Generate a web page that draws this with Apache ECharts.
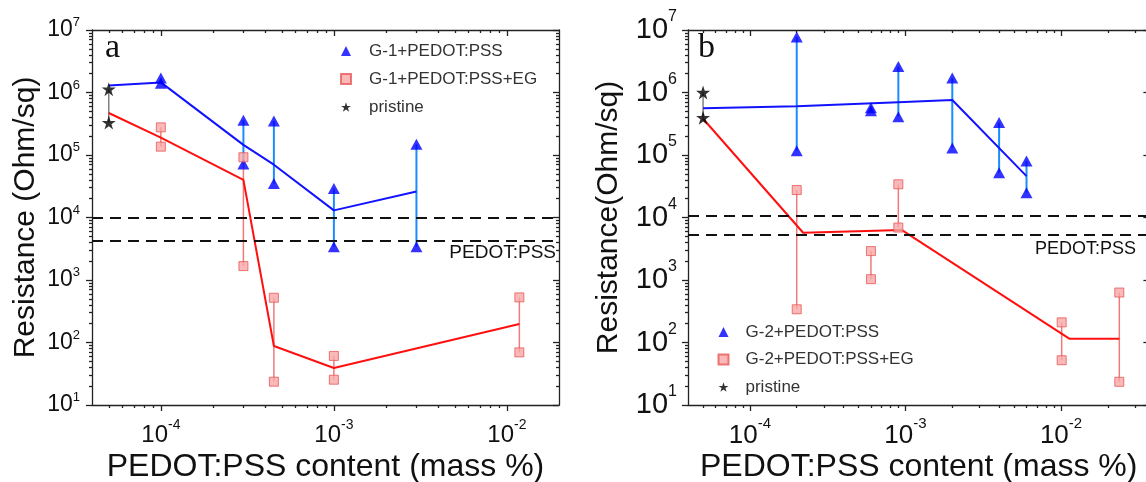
<!DOCTYPE html>
<html>
<head>
<meta charset="utf-8">
<script src="https://cdn.jsdelivr.net/npm/echarts@6/dist/echarts.min.js"></script>
<style>
html, body { margin: 0; padding: 0; background: #fff; }
#chart { width: 1146px; height: 482px; }
</style>
</head>
<body>
<div id="chart"></div>
<script>
// ---- panel a : G-1 ----
var blueBarXA  = [1e-4, 3e-4, 4.5e-4, 1e-3, 3e-3];
var blueHighA  = [1.7e6, 3.6e5, 3.5e5, 2.9e4, 1.48e5];
var blueLowA   = [1.4e6, 7.2e4, 3.5e4, 3.4e3, 3.4e3];
var blueLineXA = [5e-5, 1e-4, 3e-4, 4.5e-4, 1e-3, 3e-3];
var blueLineYA = [1.29e6, 1.45e6, 1.45e5, 7.0e4, 1.3e4, 2.6e4];
var redBarXA   = [1e-4, 3e-4, 4.5e-4, 1e-3, 1.18e-2];
var redHighA   = [2.77e5, 9.2e4, 520, 61, 527];
var redLowA    = [1.36e5, 1.67e3, 23.6, 25.4, 69.5];
var redLineXA  = [5e-5, 1e-4, 3e-4, 4.5e-4, 1e-3, 1.18e-2];
var redLineYA  = [4.7e5, 1.9e5, 4.0e4, 88, 39, 198];
var pristineXA = [5e-5];
var pristineHighA = [1.13e6];
var pristineLowA  = [3.3e5];
var pedotRefA = [1.0e4, 4.3e3];

// ---- panel b : G-2 ----
var blueBarXB  = [2e-4, 6e-4, 9e-4, 2e-3, 4e-3, 6e-3];
var blueHighB  = [7.7e6, 5.7e5, 2.6e6, 1.7e6, 3.3e5, 8.0e4];
var blueLowB   = [1.17e5, 5.1e5, 4.1e5, 1.3e5, 5.2e4, 2.5e4];
var blueLineXB = [5e-5, 2e-4, 9e-4, 2e-3, 6e-3];
var blueLineYB = [5.6e5, 6.0e5, 7.0e5, 7.6e5, 4.6e4];
var redBarXB   = [2e-4, 6e-4, 9e-4, 1.01e-2, 2.37e-2];
var redHighB   = [2.75e4, 2.9e3, 3.4e4, 210, 630];
var redLowB    = [340, 1.03e3, 6.9e3, 52, 23.5];
var redLineXB  = [5e-5, 2.2e-4, 9.5e-4, 1.13e-2, 2.37e-2];
var redLineYB  = [3.8e5, 5.7e3, 6.3e3, 115, 115];
var pristineXB = [5e-5];
var pristineHighB = [1.0e6];
var pristineLowB  = [3.95e5];
var pedotRefB = [1.06e4, 5.25e3];

// axis ranges and decade ticks
var xRangeA = [4e-5, 0.02];
var xRangeB = [4e-5, 0.037];
var yRange  = [10, 1e7];
var xDecades = [1e-4, 1e-3, 1e-2];
var yDecades = [1e1, 1e2, 1e3, 1e4, 1e5, 1e6, 1e7];

var FONT = '"Liberation Sans", Arial, sans-serif';
var TXT = '#111';
var AXIS = { color: '#222', width: 1.3 };
var STAR = 'path://M50 2 L61.2 36.2 L97.6 36.2 L68.2 57.4 L79.4 91.6 L50 70.4 L20.6 91.6 L31.8 57.4 L2.4 36.2 L38.8 36.2 Z';

var panels = [
    {
        grid: { left: 92, top: 30, width: 467, height: 375 },
        xRange: xRangeA,
        xName: 'PEDOT:PSS content (mass %)', xNameGap: 46,
        yName: 'Resistance (Ohm/sq)', yNameGap: 51,
        xLab: { b: 24, s: 14, lh: 35, margin: 13 },
        yLab: { b: 23, s: 13, lh: 28, margin: 12 }
    },
    {
        grid: { left: 688, top: 30, width: 461.4, height: 375 },
        xRange: xRangeB,
        xName: 'PEDOT:PSS content (mass %)', xNameGap: 46,
        yName: 'Resistance(Ohm/sq)', yNameGap: 64,
        xLab: { b: 26, s: 15, lh: 40, margin: 11 },
        yLab: { b: 29, s: 16, lh: 42, margin: 11 }
    }
];

function lg(v) { return Math.log(v) / Math.LN10; }

function minorTicks(range) {
    var out = [];
    var lo = Math.floor(lg(range[0])), hi = Math.ceil(lg(range[1]));
    for (var e = lo; e <= hi; e++) {
        for (var m = 2; m <= 9; m++) {
            var v = m * Math.pow(10, e);
            if (v > range[0] * 1.0001 && v < range[1] * 0.9999) out.push(lg(v));
        }
    }
    return out;
}

function powFmt(v) { return '{b|10}{s|' + Math.round(v) + '}'; }

function richFor(L) {
    return {
        b: { fontSize: L.b, lineHeight: L.lh, fontFamily: FONT, color: TXT },
        s: { fontSize: L.s, fontFamily: FONT, color: TXT, verticalAlign: 'top' }
    };
}

function tickAxis(g, pos, range, ticks, len, inside, line, lab) {
    var ax = {
        type: 'value', gridIndex: g, position: pos,
        min: lg(range[0]), max: lg(range[1]),
        axisLine: { show: line, onZero: false, lineStyle: AXIS },
        axisTick: { show: true, inside: inside, length: len, lineStyle: AXIS, customValues: ticks },
        splitLine: { show: false },
        axisLabel: { show: false }
    };
    if (lab) {
        ax.axisLabel = { show: true, margin: lab.margin, customValues: ticks, formatter: powFmt, rich: richFor(lab) };
    }
    return ax;
}

var xAxes = [], yAxes = [];
panels.forEach(function (p, g) {
    var xMaj = xDecades.filter(function (v) { return v >= p.xRange[0] && v <= p.xRange[1]; }).map(lg);
    var yMaj = yDecades.map(lg);
    var xMin = minorTicks(p.xRange), yMin = minorTicks(yRange);
    p.xi = xAxes.length;
    p.yi = yAxes.length;
    xAxes.push({
        type: 'log', logBase: 10, gridIndex: g, position: 'bottom',
        min: p.xRange[0], max: p.xRange[1],
        axisLine: { show: true, onZero: false, lineStyle: AXIS },
        axisTick: { show: false }, axisLabel: { show: false }, splitLine: { show: false },
        name: p.xName, nameLocation: 'middle', nameGap: p.xNameGap, nameMoveOverlap: false,
        nameTextStyle: { fontSize: 32, fontFamily: FONT, color: TXT }
    });
    xAxes.push(tickAxis(g, 'bottom', p.xRange, xMaj, 6, false, false, p.xLab));
    xAxes.push(tickAxis(g, 'bottom', p.xRange, xMin, 3, false, false, null));
    xAxes.push(tickAxis(g, 'top', p.xRange, xMaj, 6, true, true, null));
    xAxes.push(tickAxis(g, 'top', p.xRange, xMin, 3, true, false, null));
    yAxes.push({
        type: 'log', logBase: 10, gridIndex: g, position: 'left',
        min: yRange[0], max: yRange[1],
        axisLine: { show: true, onZero: false, lineStyle: AXIS },
        axisTick: { show: false }, axisLabel: { show: false }, splitLine: { show: false },
        name: p.yName, nameLocation: 'middle', nameGap: p.yNameGap, nameMoveOverlap: false,
        nameTextStyle: { fontSize: 30, fontFamily: FONT, color: TXT }
    });
    yAxes.push(tickAxis(g, 'left', yRange, yMaj, 6, false, false, p.yLab));
    yAxes.push(tickAxis(g, 'left', yRange, yMin, 3, false, false, null));
    yAxes.push(tickAxis(g, 'right', yRange, yMaj, 6, true, true, null));
    yAxes.push(tickAxis(g, 'right', yRange, yMin, 3, true, false, null));
});

function zip2(xs, ys) { return xs.map(function (x, i) { return [x, ys[i]]; }); }
function bars(xs, lo, hi) { return xs.map(function (x, i) { return [x, lo[i], hi[i]]; }); }
function ends(xs, lo, hi) { return zip2(xs, lo).concat(zip2(xs, hi)); }

function errBar(color, width) {
    return function (params, api) {
        var p1 = api.coord([api.value(0), api.value(1)]);
        var p2 = api.coord([api.value(0), api.value(2)]);
        return {
            type: 'line',
            shape: { x1: p1[0], y1: p1[1], x2: p2[0], y2: p2[1] },
            style: { stroke: color, lineWidth: width }
        };
    };
}

function panelSeries(p, d) {
    var ax = { xAxisIndex: p.xi, yAxisIndex: p.yi };
    function s(o) { return Object.assign({}, ax, o); }
    return [
        s({ type: 'custom', renderItem: errBar('#1a8cff', 2), data: bars(d.bx, d.blo, d.bhi), encode: { x: 0, y: [1, 2] }, silent: true, z: 2 }),
        s({ type: 'custom', renderItem: errBar('#f07a7a', 1.5), data: bars(d.rx, d.rlo, d.rhi), encode: { x: 0, y: [1, 2] }, silent: true, z: 2 }),
        s({ type: 'custom', renderItem: errBar('#808080', 1.5), data: bars(d.px, d.plo, d.phi), encode: { x: 0, y: [1, 2] }, silent: true, z: 2 }),
        s({ type: 'line', data: zip2(d.blx, d.bly), symbol: 'none', lineStyle: { color: '#1212ff', width: 2 }, z: 3, silent: true,
            markLine: {
                silent: true, symbol: 'none', label: { show: false },
                lineStyle: { color: '#111', width: 1.8, type: [11, 7] },
                data: d.ref.map(function (v) { return { yAxis: v }; })
            }
        }),
        s({ type: 'line', data: zip2(d.rlx, d.rly), symbol: 'none', lineStyle: { color: '#ff1010', width: 2 }, z: 3, silent: true }),
        s({ type: 'scatter', name: d.names[0], data: ends(d.bx, d.blo, d.bhi), symbol: 'triangle', symbolSize: [12, 11], itemStyle: { color: '#0000ff' }, z: 4 }),
        s({ type: 'scatter', name: d.names[1], data: ends(d.rx, d.rlo, d.rhi), symbol: 'rect', symbolSize: 9, itemStyle: { color: '#f8a8a8', borderColor: '#e85858', borderWidth: 1 }, z: 5 }),
        s({ type: 'scatter', name: d.names[2], data: ends(d.px, d.plo, d.phi), symbol: STAR, symbolSize: 14, itemStyle: { color: '#000' }, z: 6 })
    ];
}

var namesA = ['G-1+PEDOT:PSS', 'G-1+PEDOT:PSS+EG', 'pristine'];
var namesB = ['G-2+PEDOT:PSS', 'G-2+PEDOT:PSS+EG', 'pristine'];

var series = panelSeries(panels[0], {
    bx: blueBarXA, blo: blueLowA, bhi: blueHighA, blx: blueLineXA, bly: blueLineYA,
    rx: redBarXA, rlo: redLowA, rhi: redHighA, rlx: redLineXA, rly: redLineYA,
    px: pristineXA, plo: pristineLowA, phi: pristineHighA, ref: pedotRefA, names: namesA
}).concat(panelSeries(panels[1], {
    bx: blueBarXB, blo: blueLowB, bhi: blueHighB, blx: blueLineXB, bly: blueLineYB,
    rx: redBarXB, rlo: redLowB, rhi: redHighB, rlx: redLineXB, rly: redLineYB,
    px: pristineXB, plo: pristineLowB, phi: pristineHighB, ref: pedotRefB, names: namesB
}));

function legendAt(names, left, top, gap, pad) {
    return {
        data: names, left: left, top: top, orient: 'vertical', padding: 0,
        itemWidth: 10, itemHeight: 10, itemGap: gap, selectedMode: false,
        formatter: function (name) { return '{n|' + name + '}'; },
        textStyle: {
            fontSize: 17, fontFamily: FONT, color: '#333', lineHeight: 20,
            rich: { n: { fontSize: 17, fontFamily: FONT, color: '#333', lineHeight: 20, padding: [0, 0, 0, pad] } }
        }
    };
}

var chart = echarts.init(document.getElementById('chart'));
chart.setOption({
    animation: false,
    backgroundColor: '#fff',
    grid: panels.map(function (p) { return Object.assign({ containLabel: false, outerBoundsMode: 'none' }, p.grid); }),
    xAxis: xAxes,
    yAxis: yAxes,
    legend: [
        legendAt(namesA, 340, 41, 8, 13),
        legendAt(namesB, 717.5, 322, 7.5, 12)
    ],
    graphic: [
        { type: 'text', x: 105, y: 48.5, style: { text: 'a', font: '34px "Liberation Serif", serif', fill: TXT, verticalAlign: 'middle' } },
        { type: 'text', x: 698, y: 48.5, style: { text: 'b', font: '34px "Liberation Serif", serif', fill: TXT, verticalAlign: 'middle' } },
        { type: 'text', x: 556, y: 253, style: { text: 'PEDOT:PSS', font: '19px ' + FONT, fill: TXT, align: 'right', verticalAlign: 'middle' } },
        { type: 'text', x: 1136, y: 249, style: { text: 'PEDOT:PSS', font: '18px ' + FONT, fill: TXT, align: 'right', verticalAlign: 'middle' } }
    ],
    series: series
});
</script>
</body>
</html>
